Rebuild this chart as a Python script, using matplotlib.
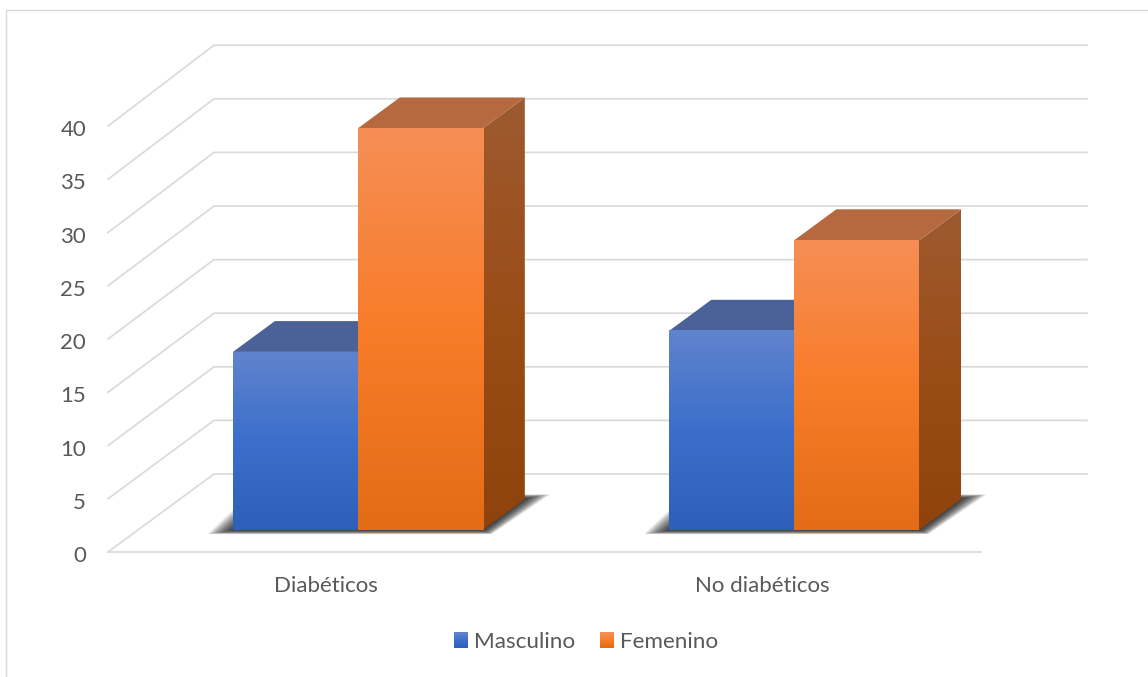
import matplotlib
matplotlib.use("Agg")
import matplotlib.pyplot as plt
import numpy as np
from matplotlib.colors import LinearSegmentedColormap
from matplotlib.legend_handler import HandlerBase
from matplotlib.lines import Line2D
from matplotlib.patches import Polygon, Rectangle
from matplotlib.transforms import ScaledTranslation

plt.rcParams['font.family'] = ['Lato', 'DejaVu Sans']

categories = ["Diabéticos", "No diabéticos"]
series_names = ["Masculino", "Femenino"]
masculino = [16.7, 18.7]
femenino = [37.7, 27.2]
y_ticks = [0, 5, 10, 15, 20, 25, 30, 35, 40]

W, H = 1148, 677
# depth of the floor, in axis units (106 px right, 78 px up)
DX = 106 / 436.5
DY = 78 / 10.65
BACK_SCALE = 53.6 / 53.25   # back wall is a bit bigger than the front plane
BAR_W = 125 / 436.5
F0, F1 = 0.285, 0.68   # where the bars start/stop in the depth
NUDGE = 1.5 / 436.5
PX = 1 / 436.5

blue_front = LinearSegmentedColormap.from_list("b", ["#2E60B9", "#3B6FCB", "#6083CD"])
orange_front = LinearSegmentedColormap.from_list("o", ["#E36C17", "#F97C29", "#F58E55"])
blue_side = LinearSegmentedColormap.from_list("bs", ["#1F3F78", "#2A4F90", "#46608F"])
orange_side = LinearSegmentedColormap.from_list("os", ["#8F430C", "#9A4D17", "#9E5A30"])
GRAD = np.linspace(1, 0, 64).reshape(-1, 1)
GRID = "#D9D9D9"
TXT = "#595959"


def drawBar(ax, x0, val, front, side, top):
    x = x0 + F0 * DX
    b = F0 * DY
    d_x = (F1 - F0) * DX
    d_y = (F1 - F0) * DY
    # side first, reaching a px under the front so no white sliver shows
    poly = Polygon([(x + BAR_W - PX, b), (x + BAR_W, b), (x + BAR_W + d_x, b + d_y),
                    (x + BAR_W + d_x, b + d_y + val), (x + BAR_W, b + val), (x + BAR_W - PX, b + val)],
                   closed=True, transform=ax.transData, fc='none', ec='none')
    ax.add_patch(poly)
    im = ax.imshow(GRAD, cmap=side, extent=[x + BAR_W - PX, x + BAR_W + d_x, b, b + d_y + val],
                   aspect='auto', zorder=4.5, vmin=0, vmax=1)
    im.set_clip_path(poly)
    im.set_clip_box(ax.figure.bbox)
    ax.add_patch(Polygon([(x, b + val), (x + BAR_W, b + val),
                          (x + BAR_W + d_x, b + val + d_y), (x + d_x, b + val + d_y)],
                         closed=True, fc=top, ec='none', zorder=4.5, clip_on=False))
    ax.imshow(GRAD, cmap=front, extent=[x, x + BAR_W, b, b + val], aspect='auto',
              zorder=5, clip_on=False, vmin=0, vmax=1)


def drawShadow(ax, x0):
    x = x0 + F0 * DX
    b = F0 * DY
    d_x = (F1 - F0) * DX
    d_y = (F1 - F0) * DY
    n = 16
    for i in range(n):
        g = (n - i) / n
        ex = 0.002 + 0.056 * g ** 1.2
        low = 0.03 + 0.38 * g
        high = 0.03 + 0.4 * g
        ax.add_patch(Polygon([(x - ex, b - low), (x + 2 * BAR_W + 0.02 * g, b - low),
                              (x + 2 * BAR_W + d_x + ex, b + d_y + high),
                              (x + d_x - ex, b + d_y + high)],
                             closed=True, fc='#202020', ec='none', alpha=0.1, zorder=3,
                             clip_on=False))


class GradHandler(HandlerBase):
    def __init__(self, cmap):
        super().__init__()
        self.cmap = cmap

    def create_artists(self, legend, orig, xd, yd, width, height, fontsize, trans):
        out = []
        n = 12
        for i in range(n):
            out.append(Rectangle((-xd, -yd + height * i / n), width, height / n + 0.2,
                                 fc=self.cmap(i / (n - 1)), ec='none', transform=trans))
        return out


fig = plt.figure(figsize=(W / 100, H / 100), dpi=100)
ax = fig.add_axes([108 / W, (H - 552) / H, 873 / W, 426 / H])

# back wall, side wall and floor lines
for v in y_ticks:
    back = DY + v * BACK_SCALE
    ax.plot([0, DX, 2 + DX], [v, back, back], color=GRID, lw=1.2, zorder=1, clip_on=False,
            solid_joinstyle='miter')
ax.plot([0, 2], [0, 0], color=GRID, lw=1.2, zorder=1, clip_on=False)

for i in range(len(categories)):
    x0 = i + 0.5 - BAR_W + NUDGE
    drawShadow(ax, x0)
    drawBar(ax, x0, masculino[i], blue_front, blue_side, "#4B6298")
    drawBar(ax, x0 + BAR_W, femenino[i], orange_front, orange_side, "#B6693F")

ax.set_xlim(0, 2)
ax.set_ylim(0, 40)
ax.set_yticks(y_ticks)
ax.set_xticks([0.5, 1.5])
ax.set_xticklabels(categories)
ax.tick_params(axis='y', length=0, pad=15.8, labelsize=16, labelcolor=TXT)
ax.tick_params(axis='x', length=0, pad=17, labelsize=16, labelcolor=TXT)
for s in ax.spines.values():
    s.set_visible(False)
# Lato sits a little high when centred
down = ScaledTranslation(0, -1.5 / 72, fig.dpi_scale_trans)
for t in ax.yaxis.get_major_ticks():
    t.label1.set_transform(t.label1.get_transform() + down)

h1 = Rectangle((0, 0), 1, 1, label=series_names[0])
h2 = Rectangle((0, 0), 1, 1, label=series_names[1])
leg = fig.legend(handles=[h1, h2], loc='center', bbox_to_anchor=(586 / W, (H - 642) / H),
                 ncol=2, frameon=False, fontsize=16.2, labelcolor=TXT,
                 handlelength=0.62, handleheight=0.66, handletextpad=0.27, columnspacing=1.1,
                 handler_map={h1: GradHandler(blue_front), h2: GradHandler(orange_front)})

# chart border, only left and top show up in the crop
fig.add_artist(Line2D([5.5 / W, 5.5 / W, 1], [0, (H - 9.5) / H, (H - 9.5) / H],
                      color=GRID, lw=1, transform=fig.transFigure))

fig.savefig("out.png", dpi=100, facecolor='white')
